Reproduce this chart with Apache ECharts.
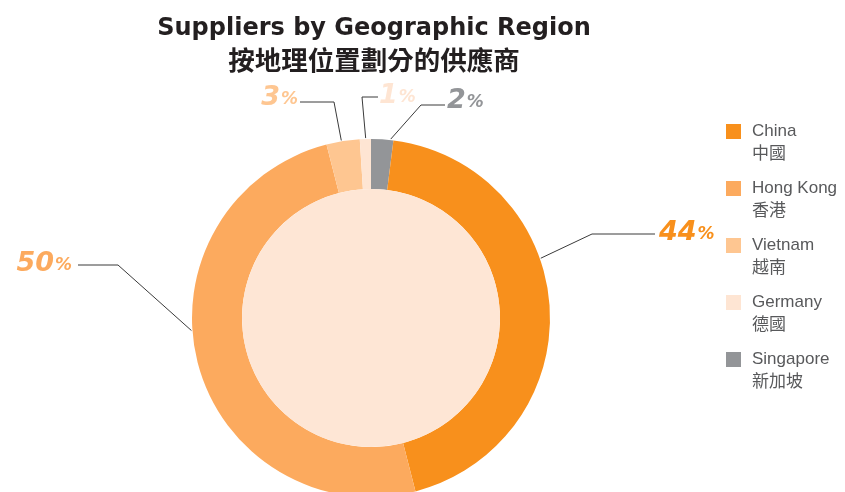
<!DOCTYPE html>
<html>
<head>
<meta charset="utf-8">
<title>Suppliers by Geographic Region</title>
<script src="https://cdn.jsdelivr.net/npm/echarts@6/dist/echarts.min.js"></script>
<style>
  html, body { margin: 0; padding: 0; background: #fff; }
  #chart { width: 845px; height: 492px; }
</style>
</head>
<body>
<div id="chart"></div>
<script>
// 数据：从12点方向开始顺时针
const regions = ['Singapore', 'China', 'Hong Kong', 'Vietnam', 'Germany'];
const regionsZh = ['新加坡', '中國', '香港', '越南', '德國'];
const shares = [2, 44, 50, 3, 1];
const legendOrder = ['China', 'Hong Kong', 'Vietnam', 'Germany', 'Singapore'];

// 颜色
const colors = ['#939598', '#f8901c', '#fcaa5e', '#fec691', '#fee5d3'];
const innerColor = '#fee6d5';

// 饼图几何
const center = [371, 318];
const outerR = 179;
const innerR = 129;

// 标签位置（按数据顺序）
const labelSpots = [
  { x: 447, y: 101, align: 'left', lineY: 105, startX: 445, bendX: 421, angle: 6.3 },
  { x: 659, y: 233, align: 'left', lineY: 234, startX: 655, bendX: 592, angle: 70.6 },
  { x: 72, y: 264, align: 'right', lineY: 265, startX: 78, bendX: 118, angle: 266 },
  { x: 298, y: 98, align: 'right', lineY: 102, startX: 300, bendX: 334, angle: 350.5 },
  { x: 379, y: 96, align: 'left', lineY: 97, startX: 378, bendX: 362, angle: 358.3 }
];

const zhName = {};
regions.forEach((r, i) => { zhName[r] = regionsZh[i]; });

const fontEn = "'Liberation Sans', Arial, sans-serif";
const fontWide = "'DejaVu Sans', sans-serif";
const fontZh = "'Noto Sans CJK TC', 'Noto Sans CJK SC', sans-serif";

function arcPoint(angle) {
  let rad = angle * Math.PI / 180;
  return [center[0] + (outerR + 1) * Math.sin(rad), center[1] - (outerR + 1) * Math.cos(rad)];
}

let chart = echarts.init(document.getElementById('chart'));

let option = {
  animation: false,
  title: {
    text: '{en|Suppliers by Geographic Region}\n{zh|按地理位置劃分的供應商}',
    left: 369,
    top: 9,
    textAlign: 'center',
    textStyle: {
      rich: {
        en: { fontFamily: fontWide, fontSize: 24, fontWeight: 'bold', color: '#231f20', lineHeight: 30 },
        zh: { fontFamily: fontZh, fontSize: 26.5, fontWeight: 'bold', color: '#231f20', lineHeight: 32 }
      }
    }
  },
  legend: {
    orient: 'vertical',
    left: 721,
    top: 92,
    data: legendOrder,
    icon: 'rect',
    itemWidth: 15,
    itemHeight: 15,
    itemGap: -12,
    // 首行留空，让英文行与色块对齐
    formatter: name => '\n' + name + '\n' + zhName[name],
    textStyle: {
      fontFamily: fontEn + ", 'Noto Sans CJK TC'",
      fontSize: 17,
      lineHeight: 23,
      color: '#58595b',
      padding: [0, 0, 0, 6]
    }
  },
  series: [
    {
      type: 'pie',
      center: center,
      radius: [innerR, outerR],
      startAngle: 90,
      clockwise: true,
      avoidLabelOverlap: false,
      itemStyle: { borderWidth: 0 },
      label: {
        show: true,
        position: 'outside',
        formatter: p => '{n|' + p.value + '}{p|%}',
        rich: {
          n: { fontFamily: fontWide, fontSize: 27, fontWeight: 'bold', fontStyle: 'italic' },
          p: { fontFamily: fontWide, fontSize: 17, fontWeight: 'bold', fontStyle: 'italic', padding: [4, 0, 0, 1] }
        }
      },
      labelLine: {
        show: true,
        lineStyle: { color: '#3a3a3a', width: 1 }
      },
      labelLayout: function (params) {
        let s = labelSpots[params.dataIndex];
        return {
          x: s.x,
          y: s.y,
          align: s.align,
          verticalAlign: 'middle',
          labelLinePoints: [arcPoint(s.angle), [s.bendX, s.lineY], [s.startX, s.lineY]]
        };
      },
      data: regions.map((r, i) => ({
        name: r,
        value: shares[i],
        itemStyle: { color: colors[i] },
        label: { color: colors[i] }
      }))
    },
    {
      type: 'pie',
      center: center,
      radius: [0, innerR],
      silent: true,
      label: { show: false },
      labelLine: { show: false },
      itemStyle: { color: innerColor, borderWidth: 0 },
      data: [{ name: 'inner', value: 1 }]
    }
  ]
};

chart.setOption(option);
</script>
</body>
</html>
